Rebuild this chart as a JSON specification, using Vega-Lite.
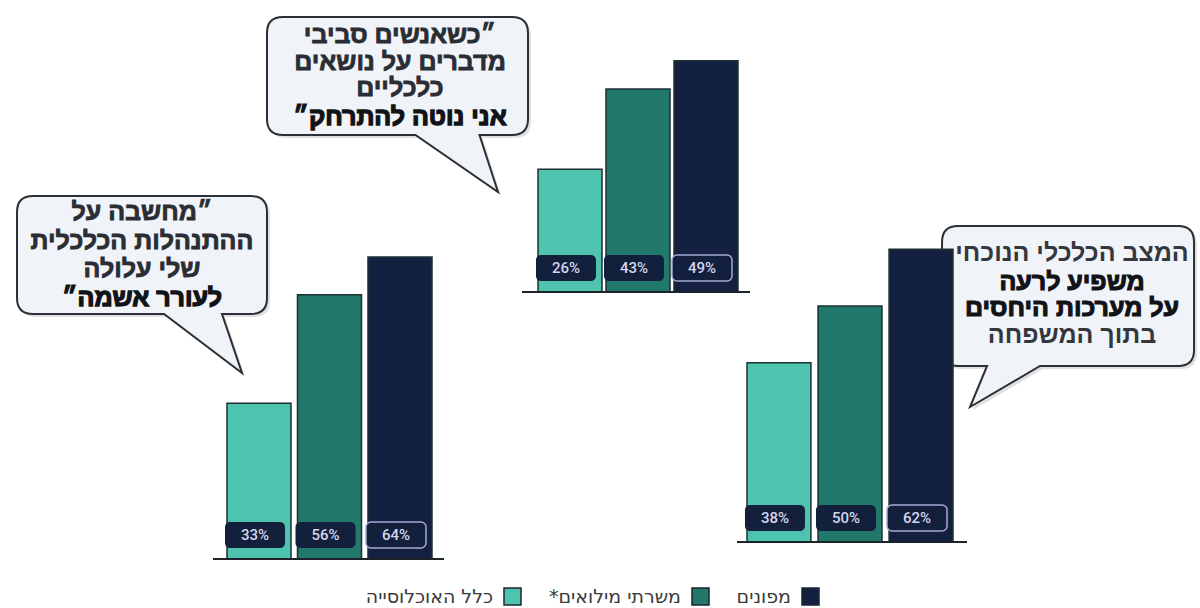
{
  "$schema": "https://vega.github.io/schema/vega-lite/v6.json",
  "width": 1200,
  "height": 608,
  "padding": 0,
  "autosize": "none",
  "background": "white",
  "config": {
    "view": {"stroke": null},
    "axis": {"disable": true},
    "legend": {"title": null, "orient": "none", "legendX": 503, "legendY": 587, "direction": "horizontal",
               "symbolType": "square", "symbolSize": 289, "symbolStrokeWidth": 1.5, "symbolStrokeColor": "#1b2530", "symbolOpacity": 1,
               "labelFont": "DejaVu Sans", "labelFontSize": 19, "labelColor": "#3a3a3a", "labelAlign": "right", "labelOffset": -29,
               "columnPadding": 24, "labelLimit": 300}
  },
  "datasets": {
    "survey": [
      {"statement": "guilt", "series": "כלל האוכלוסייה", "value": 0.33},
      {"statement": "guilt", "series": "משרתי מילואים*", "value": 0.56},
      {"statement": "guilt", "series": "מפונים", "value": 0.64},
      {"statement": "withdraw", "series": "כלל האוכלוסייה", "value": 0.26},
      {"statement": "withdraw", "series": "משרתי מילואים*", "value": 0.43},
      {"statement": "withdraw", "series": "מפונים", "value": 0.49},
      {"statement": "family", "series": "כלל האוכלוסייה", "value": 0.38},
      {"statement": "family", "series": "משרתי מילואים*", "value": 0.50},
      {"statement": "family", "series": "מפונים", "value": 0.62}
    ]
  },
  "resolve": {"scale": {"x": "independent", "y": "independent"}},
  "layer": [
    {
      "data": {"name": "survey"},
      "transform": [{"filter": "datum.statement === 'guilt'"}],
      "encoding": {
        "x": {"field": "series", "type": "nominal", "axis": null,
              "scale": {"domain": ["כלל האוכלוסייה", "משרתי מילואים*", "מפונים"], "range": [227, 432], "paddingInner": 0.092, "paddingOuter": 0}},
        "y": {"field": "value", "type": "quantitative", "axis": null,
              "scale": {"domain": [0, 1], "range": [559, 87], "nice": false, "zero": true}}
      },
      "layer": [
        {
          "transform": [{"filter": "datum.series === 'כלל האוכלוסייה'"}],
          "mark": {"type": "point", "filled": true, "opacity": 1, "size": 4, "fill": "#000000", "fillOpacity": 0.12, "strokeOpacity": 0, "xOffset": -114, "yOffset": 3,
                   "shape": "M -109 -59 L 109 -59 Q 125 -59 125 -43 L 125 43 Q 125 59 109 59 L 80 59 L 100 118 L 22 59 L -109 59 Q -125 59 -125 43 L -125 -43 Q -125 -59 -109 -59 Z"},
          "encoding": {"y": {"datum": 0.6441}}
        },
        {
          "transform": [{"filter": "datum.series === 'כלל האוכלוסייה'"}],
          "mark": {"type": "point", "filled": true, "opacity": 1, "size": 4, "fill": "#f0f3f7", "stroke": "#2b2f36", "strokeWidth": 2, "xOffset": -117,
                   "shape": "M -109 -59 L 109 -59 Q 125 -59 125 -43 L 125 43 Q 125 59 109 59 L 80 59 L 100 118 L 22 59 L -109 59 Q -125 59 -125 43 L -125 -43 Q -125 -59 -109 -59 Z"},
          "encoding": {"y": {"datum": 0.6441}}
        },
        {
          "transform": [{"filter": "datum.series === 'כלל האוכלוסייה'"}],
          "mark": {"type": "text", "align": "center", "baseline": "middle", "lineHeight": 28.7, "font": "Liberation Sans", "fontSize": 25, "fontWeight": "bold", "fill": "#2a2d33", "stroke": "#2a2d33", "strokeWidth": 0.8, "dx": -117, "dy": -43},
          "encoding": {"y": {"datum": 0.6441},
                       "text": {"value": ["״מחשבה על", "ההתנהלות הכלכלית", "שלי עלולה"]}}
        },
        {
          "transform": [{"filter": "datum.series === 'כלל האוכלוסייה'"}],
          "mark": {"type": "text", "align": "center", "baseline": "middle", "font": "Liberation Sans", "fontSize": 25, "fontWeight": "bold", "fill": "#111317", "stroke": "#111317", "strokeWidth": 1.3, "dx": -117, "dy": 43},
          "encoding": {"y": {"datum": 0.6441}, "text": {"value": "לעורר אשמה״"}}
        },
        {
          "mark": {"type": "bar", "stroke": "#1c3034", "strokeWidth": 1.5},
          "encoding": {
            "color": {"field": "series", "type": "nominal",
                      "scale": {"domain": ["כלל האוכלוסייה", "משרתי מילואים*", "מפונים"], "range": ["#4ec4af", "#22786a", "#14203f"]},
                      "legend": {"labelExpr": "indexof(datum.label, '*') > 0 ? '*' + replace(datum.label, '*', '') : datum.label"}}
          }
        },
        {
          "mark": {"type": "rule", "color": "#1d2228", "strokeWidth": 1.5, "xOffset": -46, "x2Offset": 44},
          "encoding": {"x": {"datum": "כלל האוכלוסייה"}, "x2": {"datum": "מפונים"}, "y": {"datum": 0}}
        },
        {
          "mark": {"type": "bar", "width": 60, "cornerRadius": 5, "fill": "#13203c", "stroke": "#a4a9d6", "strokeWidth": 1.5, "xOffset": -4},
          "encoding": {"y": {"datum": 0.0233}, "y2": {"datum": 0.0784},
                       "strokeOpacity": {"condition": {"test": "datum.series === 'מפונים'", "value": 1}, "value": 0}}
        },
        {
          "mark": {"type": "text", "align": "center", "baseline": "middle", "font": "Roboto", "fontSize": 15, "fontWeight": 500, "fill": "#d2d5ee", "dx": -4},
          "encoding": {"y": {"datum": 0.0508}, "text": {"field": "value", "type": "quantitative", "format": ".0%"}}
        }
      ]
    },
    {
      "data": {"name": "survey"},
      "transform": [{"filter": "datum.statement === 'withdraw'"}],
      "encoding": {
        "x": {"field": "series", "type": "nominal", "axis": null,
              "scale": {"domain": ["כלל האוכלוסייה", "משרתי מילואים*", "מפונים"], "range": [538, 738], "paddingInner": 0.059, "paddingOuter": 0}},
        "y": {"field": "value", "type": "quantitative", "axis": null,
              "scale": {"domain": [0, 1], "range": [292, -180], "nice": false, "zero": true}}
      },
      "layer": [
        {
          "transform": [{"filter": "datum.series === 'כלל האוכלוסייה'"}],
          "mark": {"type": "point", "filled": true, "opacity": 1, "size": 4, "fill": "#000000", "fillOpacity": 0.12, "strokeOpacity": 0, "xOffset": -169.5, "yOffset": 3,
                   "shape": "M -114.5 -59 L 114.5 -59 Q 130.5 -59 130.5 -43 L 130.5 43 Q 130.5 59 114.5 59 L 82 59 L 100.5 116 L 18 59 L -114.5 59 Q -130.5 59 -130.5 43 L -130.5 -43 Q -130.5 -59 -114.5 -59 Z"},
          "encoding": {"y": {"datum": 0.4576}}
        },
        {
          "transform": [{"filter": "datum.series === 'כלל האוכלוסייה'"}],
          "mark": {"type": "point", "filled": true, "opacity": 1, "size": 4, "fill": "#f0f3f7", "stroke": "#2b2f36", "strokeWidth": 2, "xOffset": -172.5,
                   "shape": "M -114.5 -59 L 114.5 -59 Q 130.5 -59 130.5 -43 L 130.5 43 Q 130.5 59 114.5 59 L 82 59 L 100.5 116 L 18 59 L -114.5 59 Q -130.5 59 -130.5 43 L -130.5 -43 Q -130.5 -59 -114.5 -59 Z"},
          "encoding": {"y": {"datum": 0.4576}}
        },
        {
          "transform": [{"filter": "datum.series === 'כלל האוכלוסייה'"}],
          "mark": {"type": "text", "align": "center", "baseline": "middle", "lineHeight": 26.5, "font": "Liberation Sans", "fontSize": 25, "fontWeight": "bold", "fill": "#2a2d33", "stroke": "#2a2d33", "strokeWidth": 0.8, "dx": -170, "dy": -41},
          "encoding": {"y": {"datum": 0.4576},
                       "text": {"value": ["״כשאנשים סביבי", "מדברים על נושאים", "כלכליים"]}}
        },
        {
          "transform": [{"filter": "datum.series === 'כלל האוכלוסייה'"}],
          "mark": {"type": "text", "align": "center", "baseline": "middle", "font": "Liberation Sans", "fontSize": 25, "fontWeight": "bold", "fill": "#111317", "stroke": "#111317", "strokeWidth": 1.3, "dx": -170, "dy": 41},
          "encoding": {"y": {"datum": 0.4576}, "text": {"value": "אני נוטה להתרחק״"}}
        },
        {
          "mark": {"type": "bar", "stroke": "#1c3034", "strokeWidth": 1.5},
          "encoding": {
            "color": {"field": "series", "type": "nominal",
                      "scale": {"domain": ["כלל האוכלוסייה", "משרתי מילואים*", "מפונים"], "range": ["#4ec4af", "#22786a", "#14203f"]},
                      "legend": {"labelExpr": "indexof(datum.label, '*') > 0 ? '*' + replace(datum.label, '*', '') : datum.label"}}
          }
        },
        {
          "mark": {"type": "rule", "color": "#1d2228", "strokeWidth": 1.5, "xOffset": -48, "x2Offset": 44},
          "encoding": {"x": {"datum": "כלל האוכלוסייה"}, "x2": {"datum": "מפונים"}, "y": {"datum": 0}}
        },
        {
          "mark": {"type": "bar", "width": 60, "cornerRadius": 5, "fill": "#13203c", "stroke": "#a4a9d6", "strokeWidth": 1.5, "xOffset": -4},
          "encoding": {"y": {"datum": 0.0233}, "y2": {"datum": 0.0784},
                       "strokeOpacity": {"condition": {"test": "datum.series === 'מפונים'", "value": 1}, "value": 0}}
        },
        {
          "mark": {"type": "text", "align": "center", "baseline": "middle", "font": "Roboto", "fontSize": 15, "fontWeight": 500, "fill": "#d2d5ee", "dx": -4},
          "encoding": {"y": {"datum": 0.0508}, "text": {"field": "value", "type": "quantitative", "format": ".0%"}}
        }
      ]
    },
    {
      "data": {"name": "survey"},
      "transform": [{"filter": "datum.statement === 'family'"}],
      "encoding": {
        "x": {"field": "series", "type": "nominal", "axis": null,
              "scale": {"domain": ["כלל האוכלוסייה", "משרתי מילואים*", "מפונים"], "range": [747, 953], "paddingInner": 0.1, "paddingOuter": 0}},
        "y": {"field": "value", "type": "quantitative", "axis": null,
              "scale": {"domain": [0, 1], "range": [542, 70], "nice": false, "zero": true}}
      },
      "layer": [
        {
          "transform": [{"filter": "datum.series === 'מפונים'"}],
          "mark": {"type": "point", "filled": true, "opacity": 1, "size": 4, "fill": "#000000", "fillOpacity": 0.12, "strokeOpacity": 0, "xOffset": 150, "yOffset": 3,
                   "shape": "M -110 -70 L 110 -70 Q 126 -70 126 -54 L 126 54 Q 126 70 110 70 L -28 70 L -98 111 L -81 70 L -110 70 Q -126 70 -126 54 L -126 -54 Q -126 -70 -110 -70 Z"},
          "encoding": {"y": {"datum": 0.5212}}
        },
        {
          "transform": [{"filter": "datum.series === 'מפונים'"}],
          "mark": {"type": "point", "filled": true, "opacity": 1, "size": 4, "fill": "#f0f3f7", "stroke": "#2b2f36", "strokeWidth": 2, "xOffset": 147,
                   "shape": "M -110 -70 L 110 -70 Q 126 -70 126 -54 L 126 54 Q 126 70 110 70 L -28 70 L -98 111 L -81 70 L -110 70 Q -126 70 -126 54 L -126 -54 Q -126 -70 -110 -70 Z"},
          "encoding": {"y": {"datum": 0.5212}}
        },
        {
          "transform": [{"filter": "datum.series === 'מפונים'"}],
          "mark": {"type": "text", "align": "center", "baseline": "middle", "font": "Liberation Sans", "fontSize": 25, "fontWeight": "bold", "fill": "#34373d", "dx": 151, "dy": -43},
          "encoding": {"y": {"datum": 0.5212}, "text": {"value": "המצב הכלכלי הנוכחי"}}
        },
        {
          "transform": [{"filter": "datum.series === 'מפונים'"}],
          "mark": {"type": "text", "align": "center", "baseline": "middle", "lineHeight": 26.5, "font": "Liberation Sans", "fontSize": 25, "fontWeight": "bold", "fill": "#111317", "stroke": "#111317", "strokeWidth": 1.1, "dx": 151, "dy": -14},
          "encoding": {"y": {"datum": 0.5212},
                       "text": {"value": ["משפיע לרעה", "על מערכות היחסים"]}}
        },
        {
          "transform": [{"filter": "datum.series === 'מפונים'"}],
          "mark": {"type": "text", "align": "center", "baseline": "middle", "font": "Liberation Sans", "fontSize": 25, "fontWeight": "bold", "fill": "#34373d", "dx": 151, "dy": 39},
          "encoding": {"y": {"datum": 0.5212}, "text": {"value": "בתוך המשפחה"}}
        },
        {
          "mark": {"type": "bar", "stroke": "#1c3034", "strokeWidth": 1.5},
          "encoding": {
            "color": {"field": "series", "type": "nominal",
                      "scale": {"domain": ["כלל האוכלוסייה", "משרתי מילואים*", "מפונים"], "range": ["#4ec4af", "#22786a", "#14203f"]},
                      "legend": {"labelExpr": "indexof(datum.label, '*') > 0 ? '*' + replace(datum.label, '*', '') : datum.label"}}
          }
        },
        {
          "mark": {"type": "rule", "color": "#1d2228", "strokeWidth": 1.5, "xOffset": -42, "x2Offset": 46},
          "encoding": {"x": {"datum": "כלל האוכלוסייה"}, "x2": {"datum": "מפונים"}, "y": {"datum": 0}}
        },
        {
          "mark": {"type": "bar", "width": 60, "cornerRadius": 5, "fill": "#13203c", "stroke": "#a4a9d6", "strokeWidth": 1.5, "xOffset": -4},
          "encoding": {"y": {"datum": 0.0233}, "y2": {"datum": 0.0784},
                       "strokeOpacity": {"condition": {"test": "datum.series === 'מפונים'", "value": 1}, "value": 0}}
        },
        {
          "mark": {"type": "text", "align": "center", "baseline": "middle", "font": "Roboto", "fontSize": 15, "fontWeight": 500, "fill": "#d2d5ee", "dx": -4},
          "encoding": {"y": {"datum": 0.0508}, "text": {"field": "value", "type": "quantitative", "format": ".0%"}}
        }
      ]
    }
  ]
}
